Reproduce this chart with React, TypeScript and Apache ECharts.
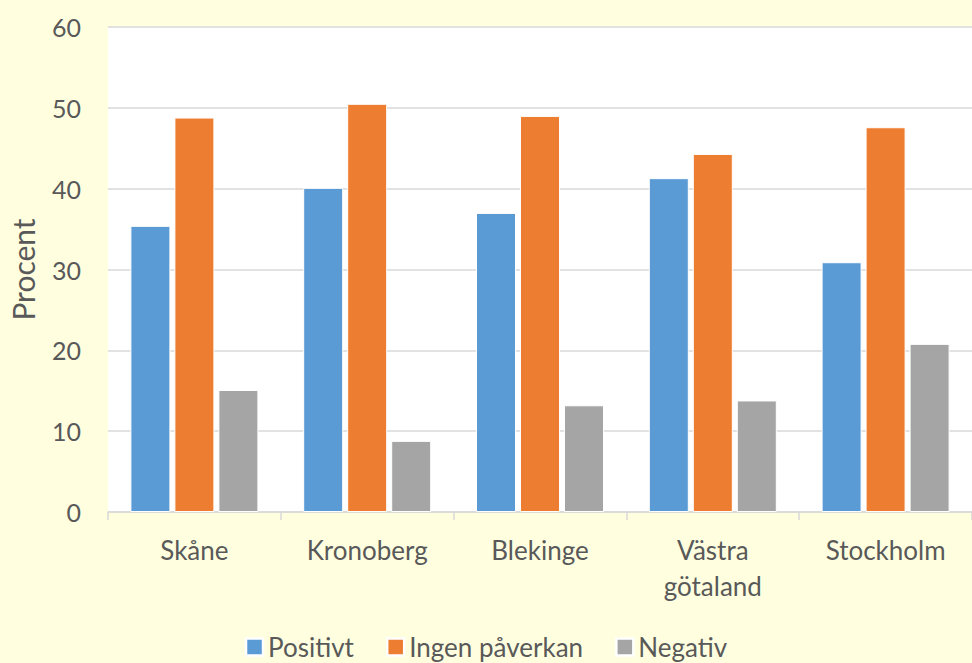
import React, { useEffect, useRef } from "react";
import * as echarts from "echarts";

const categories = ["Skåne", "Kronoberg", "Blekinge", "Västra\ngötaland", "Stockholm"];
const positivt = [35.4, 40.1, 37.0, 41.3, 30.9];
const ingenPaverkan = [48.8, 50.5, 49.0, 44.3, 47.6];
const negativ = [15.1, 8.8, 13.2, 13.8, 20.8];
const seriesNames = ["Positivt", "Ingen påverkan", "Negativ"];
const colors = ["#5B9BD5", "#ED7D31", "#A5A5A5"];

const FONT = "Lato";
const TEXT = "#595959";

export default function App() {
  const ref = useRef<HTMLDivElement>(null);
  useEffect(() => {
    if (!ref.current) return;
    const chart = echarts.init(ref.current, undefined, { renderer: "svg" });
    const data = [positivt, ingenPaverkan, negativ];
    chart.setOption({
      animation: false,
      backgroundColor: "#FFFFE0",
      textStyle: { fontFamily: FONT },
      grid: {
        left: 106,
        top: 27,
        bottom: 151,
        right: -9,
        show: true,
        backgroundColor: "#FFFFFF",
        borderWidth: 0,
      },
      legend: {
        bottom: -2,
        left: "center",
        itemWidth: 17,
        itemHeight: 17,
        itemGap: 32,
        icon: "rect",
        itemStyle: { borderColor: "#FFFFFF", borderWidth: 2.5 },
        textStyle: { fontFamily: FONT, fontSize: 26, color: TEXT },
        data: seriesNames,
      },
      xAxis: {
        type: "category",
        data: categories,
        axisLine: { lineStyle: { color: "#D9D9D9", width: 1.5 } },
        axisTick: { show: true, length: 8, lineStyle: { color: "#D9D9D9", width: 1.5 } },
        axisLabel: {
          fontFamily: FONT,
          fontSize: 26,
          color: TEXT,
          margin: 20,
          lineHeight: 36,
          interval: 0,
        },
      },
      yAxis: {
        type: "value",
        min: 0,
        max: 60,
        interval: 10,
        name: "Procent",
        nameLocation: "middle",
        nameGap: 70,
        nameTextStyle: { fontFamily: FONT, fontSize: 30, color: TEXT },
        axisLine: { show: false },
        axisTick: { show: false },
        axisLabel: { fontFamily: FONT, fontSize: 25, color: TEXT, margin: 27 },
        splitLine: { lineStyle: { color: "#D9D9D9", width: 1.5 } },
      },
      series: seriesNames.map((name, i) => ({
        name,
        type: "bar",
        data: data[i],
        barWidth: 40,
        barGap: "10%",
        itemStyle: { color: colors[i], borderColor: "#FFFFFF", borderWidth: 1 },
      })),
    });
    return () => chart.dispose();
  }, []);
  return (
    <div
      ref={ref}
      style={{ position: "fixed", left: 0, top: 0, width: 972, height: 663 }}
    />
  );
}
